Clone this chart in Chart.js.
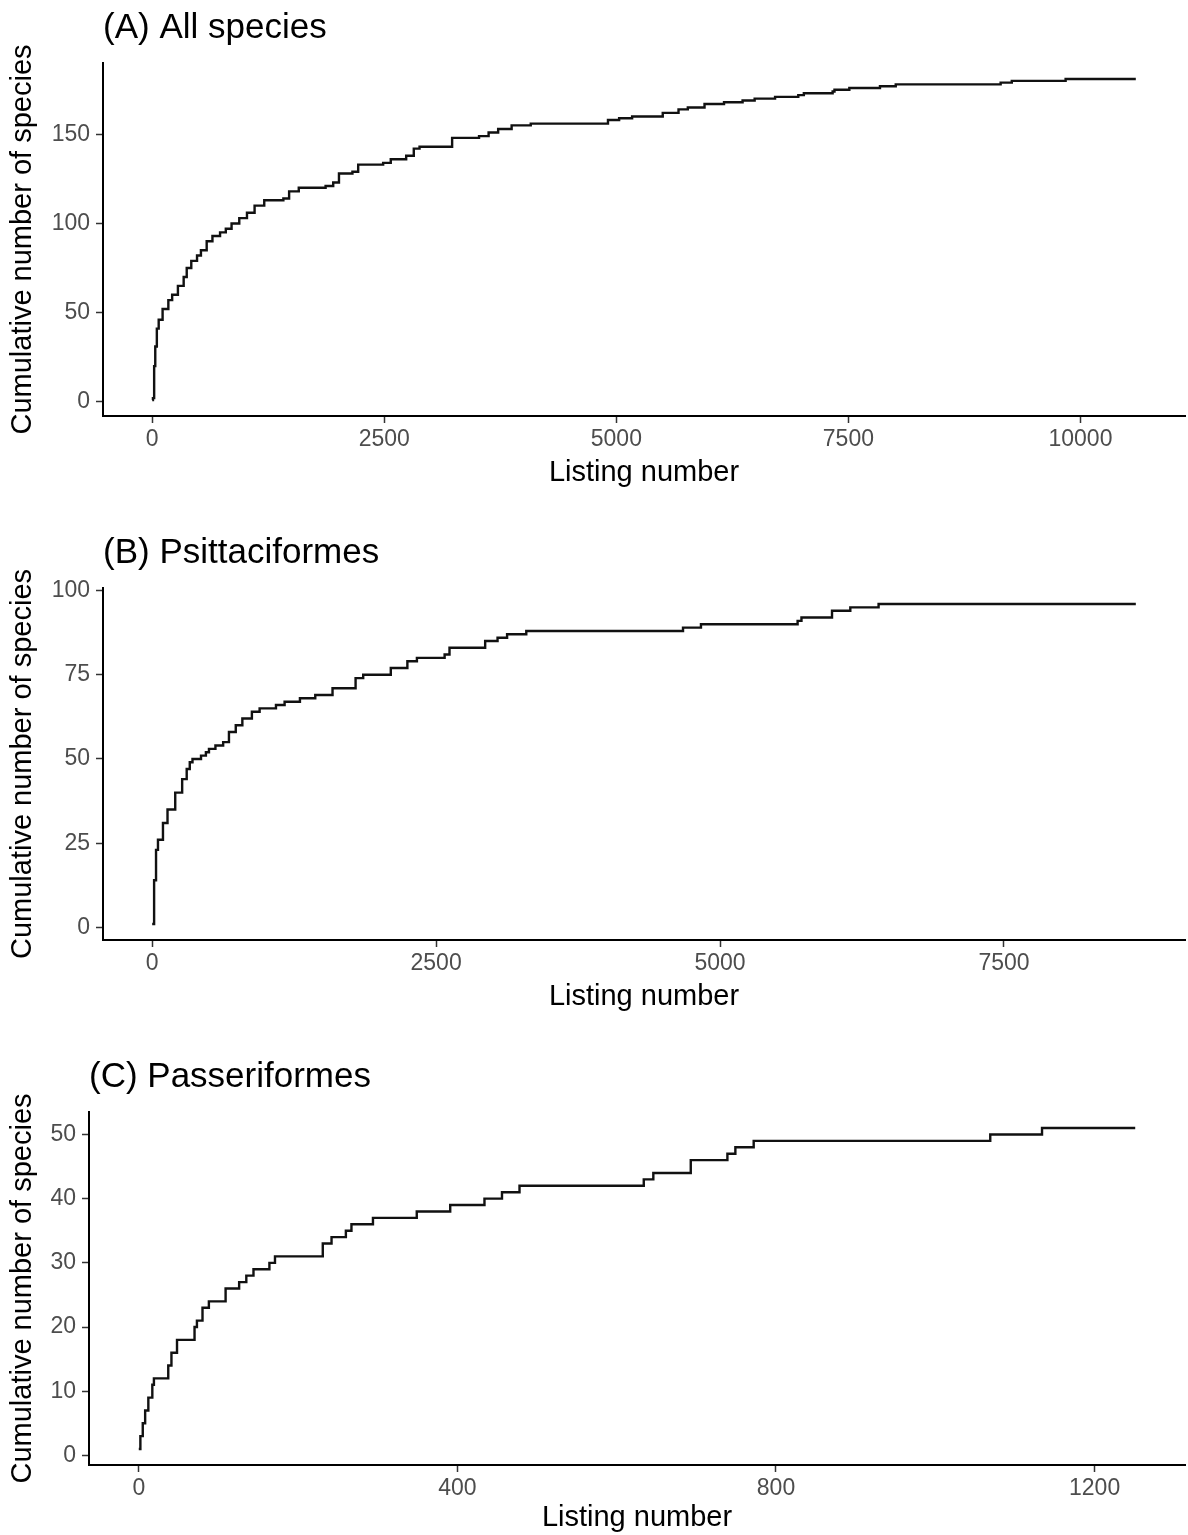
<!DOCTYPE html>
<html>
<head>
<meta charset="utf-8">
<script src="https://cdn.jsdelivr.net/npm/chart.js@4.4.1/dist/chart.umd.min.js"></script>
<style>
  body { margin: 0; background: #fff; }
  #wrap { position: relative; width: 1188px; height: 1535px; }
  canvas { position: absolute; left: 0; }
</style>
</head>
<body>
<div id="wrap">
  <canvas id="chartA" width="1188" height="490" style="top:0px"></canvas>
  <canvas id="chartB" width="1188" height="489" style="top:525px"></canvas>
  <canvas id="chartC" width="1188" height="486" style="top:1049px"></canvas>
</div>
<script>
// (A) All species
const listingA = [0, 8, 21, 33, 50, 70, 112, 174, 215, 277, 339, 372, 421, 483, 525, 587, 649, 731, 793, 855,
  938, 1021, 1103, 1207, 1413, 1475, 1579, 1868, 1950, 2012, 2157, 2219, 2488, 2570, 2736, 2818, 2880, 3231,
  3521, 3624, 3727, 3872, 4078, 4910, 5030, 5170, 5500, 5670, 5770, 5950, 6160, 6360, 6490, 6710, 6960, 7020,
  7330, 7350, 7510, 7840, 8010, 9140, 9260, 9840, 10596];
const speciesA = [1, 2, 20, 31, 41, 46, 52, 57, 60, 65, 70, 75, 79, 82, 85, 90, 93, 95, 97, 100,
  103, 106, 110, 113, 114, 118, 120, 121, 123, 128, 129, 133, 134, 136, 138, 142, 143, 148,
  149, 151, 153, 155, 156, 158, 159, 160, 162, 164, 165, 167, 168, 169, 170, 171, 172, 173,
  174, 175, 176, 177, 178, 179, 180, 181, 181];
const xTicksA = [0, 2500, 5000, 7500, 10000];
const yTicksA = [0, 50, 100, 150];

// (B) Psittaciformes
const listingB = [0, 17, 34, 51, 95, 135, 203, 264, 304, 331, 355, 430, 473, 500, 557, 625, 676, 736, 794, 878,
  946, 1090, 1166, 1301, 1436, 1588, 1791, 1858, 2101, 2247, 2331, 2575, 2618, 2932, 3041, 3125, 3294,
  4674, 4832, 5683, 5717, 5986, 6147, 6396, 8661];
const speciesB = [1, 14, 23, 26, 31, 35, 40, 44, 47, 49, 50, 51, 52, 53, 54, 55, 58, 60, 62, 64,
  65, 66, 67, 68, 69, 71, 74, 75, 77, 79, 80, 81, 83, 85, 86, 87, 88,
  89, 90, 91, 92, 94, 95, 96, 96];
const xTicksB = [0, 2500, 5000, 7500];
const yTicksB = [0, 25, 50, 75, 100];

// (C) Passeriformes
const listingC = [0, 2, 5, 8, 12, 17, 19, 37, 41, 48, 70, 73, 80, 88, 109, 126, 135, 144, 164, 171,
  231, 242, 260, 267, 294, 349, 391, 434, 456, 478, 634, 646, 693, 739, 749, 772, 1069, 1134, 1251];
const speciesC = [1, 3, 5, 7, 9, 11, 12, 14, 16, 18, 20, 21, 23, 24, 26, 27, 28, 29, 30, 31,
  33, 34, 35, 36, 37, 38, 39, 40, 41, 42, 43, 44, 46, 47, 48, 49, 50, 51, 51];
const xTicksC = [0, 400, 800, 1200];
const yTicksC = [0, 10, 20, 30, 40, 50];

const FONT = 'Liberation Sans, Arial, sans-serif';

function makeChart(id, title, xs, ys, xRange, xTicks, yRange, yTicks, yWidth, xHeight) {
  const axisGrid = { display: true, drawOnChartArea: false, drawTicks: true, tickLength: 7, tickColor: '#333', tickWidth: 1.5 };
  const axisBorder = { display: true, color: '#000', width: 2 };
  new Chart(document.getElementById(id), {
    type: 'line',
    data: {
      datasets: [{
        data: xs.map((x, i) => ({ x: x, y: ys[i] })),
        borderColor: '#111',
        borderWidth: 2.4,
        stepped: 'before',
        pointRadius: 0,
        fill: false
      }]
    },
    options: {
      responsive: false,
      animation: false,
      layout: { padding: { left: 0, right: 3, top: 0, bottom: 0 } },
      plugins: {
        legend: { display: false },
        tooltip: { enabled: false },
        title: {
          display: true,
          text: title,
          align: 'start',
          fullSize: false,
          color: '#000',
          font: { family: FONT, size: 35, weight: 'normal', lineHeight: 1.2 },
          padding: { top: 7, bottom: 14 }
        }
      },
      scales: {
        x: {
          type: 'linear',
          min: xRange[0],
          max: xRange[1],
          afterBuildTicks: s => { s.ticks = xTicks.map(v => ({ value: v })); },
          afterFit: s => { s.height = xHeight; s.paddingLeft = 0; s.paddingRight = 0; },
          grid: axisGrid,
          border: axisBorder,
          ticks: { color: '#4d4d4d', font: { family: FONT, size: 23 }, padding: 3, autoSkip: false, maxRotation: 0,
            callback: v => String(v) },
          title: { display: true, text: 'Listing number', color: '#000', font: { family: FONT, size: 29, lineHeight: 1.2 }, padding: { top: 0, bottom: 0 } }
        },
        y: {
          type: 'linear',
          min: yRange[0],
          max: yRange[1],
          afterBuildTicks: s => { s.ticks = yTicks.map(v => ({ value: v })); },
          afterFit: s => { s.width = yWidth; s.paddingTop = 0; s.paddingBottom = 0; },
          grid: axisGrid,
          border: axisBorder,
          ticks: { color: '#4d4d4d', font: { family: FONT, size: 23 }, padding: 6, autoSkip: false,
            callback: v => String(v) },
          title: { display: true, text: 'Cumulative number of species', color: '#000', font: { family: FONT, size: 29, lineHeight: 1.2 }, padding: { top: 6, bottom: 0 } }
        }
      }
    }
  });
}

makeChart('chartA', '(A) All species', listingA, speciesA, [-530, 11126], xTicksA, [-8, 190], yTicksA, 103, 74);
makeChart('chartB', '(B) Psittaciformes', listingB, speciesB, [-433, 9094], xTicksB, [-3.75, 100.75], yTicksB, 103, 74);
makeChart('chartC', '(C) Passeriformes', listingC, speciesC, [-62.5, 1313.5], xTicksC, [-1.5, 53.5], yTicksC, 89, 70);
</script>
</body>
</html>
